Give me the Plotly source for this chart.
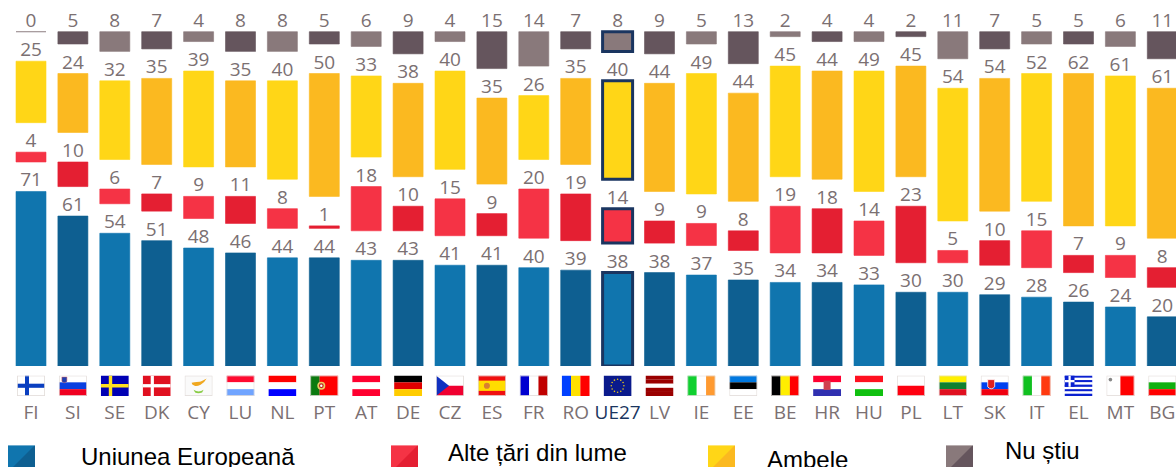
import base64
import math
import plotly.graph_objects as go

# ---------- data ----------
countries = ["FI", "SI", "SE", "DK", "CY", "LU", "NL", "PT", "AT", "DE", "CZ", "ES", "FR", "RO",
             "UE27", "LV", "IE", "EE", "BE", "HR", "HU", "PL", "LT", "SK", "IT", "EL", "MT", "BG"]
eu_values = [71, 61, 54, 51, 48, 46, 44, 44, 43, 43, 41, 41, 40, 39,
             38, 38, 37, 35, 34, 34, 33, 30, 30, 29, 28, 26, 24, 20]
other_values = [4, 10, 6, 7, 9, 11, 8, 1, 18, 10, 15, 9, 20, 19,
                14, 9, 9, 8, 19, 18, 14, 23, 5, 10, 15, 7, 9, 8]
both_values = [25, 24, 32, 35, 39, 35, 40, 50, 33, 38, 40, 35, 26, 35,
               40, 44, 49, 44, 45, 44, 49, 45, 54, 54, 52, 62, 61, 61]
dk_values = [0, 5, 8, 7, 4, 8, 8, 5, 6, 9, 4, 15, 14, 7,
             8, 9, 5, 13, 2, 4, 4, 2, 11, 7, 5, 5, 6, 11]
series_names = ["Uniunea Europeană", "Alte țări din lume", "Ambele", "Nu știu"]

# ---------- styles ----------
W, H = 1176, 467
BASE_PX = 366            # pixel row of the zero line
PX_PER_UNIT = 2.458
GAP = 12                 # blank space between the four panels, in value units
LABEL_DROP = -0.1        # label anchor offset below the bar top, in value units
STEP = 41.9
FIRST_CENTER = 31
BAR_PX = 30
NAVY = "#1a3560"
TXT = "#7b7072"
LIGHT = ["#1075ae", "#f53345", "#ffd617", "#89797b"]
DARK = ["#0e5f91", "#e41f32", "#fbb920", "#65555d"]
FONT = "Open Sans"


def px_y(y):
    return (BASE_PX - y) / BASE_PX


def svg_uri(body, w=28, h=20):
    svg = f'<svg xmlns="http://www.w3.org/2000/svg" width="{w*4}" height="{h*4}" viewBox="0 0 {w} {h}">{body}</svg>'
    return "data:image/svg+xml;base64," + base64.b64encode(svg.encode()).decode()


def hbands(*cols):
    n = len(cols)
    return "".join(f'<rect x="0" y="{20*i/n}" width="28" height="{20/n+0.05}" fill="{c}"/>' for i, c in enumerate(cols))


def vbands(*cols):
    n = len(cols)
    return "".join(f'<rect x="{28*i/n}" y="0" width="{28/n+0.05}" height="20" fill="{c}"/>' for i, c in enumerate(cols))


def cross(bg, fg, t=4):
    return (f'<rect width="28" height="20" fill="{bg}"/><rect x="8" width="{t}" height="20" fill="{fg}"/>'
            f'<rect y="{10-t/2}" width="28" height="{t}" fill="{fg}"/>')


def eu_stars():
    s = '<rect width="28" height="20" fill="#0a1a8c"/>'
    for k in range(12):
        a = k * math.pi / 6
        s += f'<circle cx="{14+6.3*math.cos(a):.2f}" cy="{10+6.3*math.sin(a):.2f}" r="0.8" fill="#e4c21a"/>'
    return s


flag_art = {
    "FI": cross("#ffffff", "#0a3fc0"),
    "SI": hbands("#ffffff", "#0a3fe0", "#f00020") + '<path d="M3 1.5h5v4q-2.5 3-5 0z" fill="#2040b0" stroke="#e06060" stroke-width=".5"/>',
    "SE": cross("#0000b4", "#ffe020", t=3.4),
    "DK": cross("#e01020", "#ffffff", t=3.2),
    "CY": '<rect width="28" height="20" fill="#fafafa"/><path d="M7 7q6 -1 8 -1t7 -3q-2 4 -6 6t-6 1q-3 -1 -3 -3z" fill="#f0a820"/><path d="M9 14q5 3 10 0l-1.5 2.5q-4 1.5 -7 0z" fill="#88cc44"/>',
    "LU": hbands("#ff0a30", "#ffffff", "#70a4ff"),
    "NL": hbands("#ff0000", "#ffffff", "#0000ff"),
    "PT": vbands("#0c7a10", "#ff0000", "#ff0000") + '<circle cx="11" cy="10" r="4" fill="#e8d060"/><circle cx="11" cy="10" r="2.4" fill="#c02020"/><circle cx="11" cy="10" r="1.2" fill="#ffffff"/>',
    "AT": hbands("#ff0030", "#ffffff", "#ff0030"),
    "DE": hbands("#000000", "#e00000", "#ffcc00"),
    "CZ": hbands("#ffffff", "#f00030") + '<path d="M0 0L13 10L0 20z" fill="#1030c0"/>',
    "ES": '<rect width="28" height="20" fill="#f01010"/><rect y="5" width="28" height="10" fill="#ffdd00"/><circle cx="9" cy="10" r="3" fill="#d88030"/>',
    "FR": vbands("#0000d0", "#ffffff", "#c00000"),
    "RO": vbands("#0040ff", "#ffe000", "#ff0000"),
    "UE27": eu_stars(),
    "LV": hbands("#9a0000", "#9a0000", "#ffffff", "#9a0000", "#9a0000"),
    "IE": vbands("#10d030", "#ffffff", "#ff9a30"),
    "EE": hbands("#0078e0", "#000000", "#ffffff"),
    "BE": vbands("#000000", "#ffee00", "#ff0000"),
    "HR": hbands("#ff0030", "#ffffff", "#3030b0") + '<rect x="10.5" y="5" width="7" height="9" fill="#d04050"/>',
    "HU": hbands("#ff1020", "#ffffff", "#10c010"),
    "PL": hbands("#ffffff", "#ff0010"),
    "LT": hbands("#fff000", "#108030", "#e01020"),
    "SK": hbands("#ffffff", "#0040f0", "#f00010") + '<path d="M7 4h7v7q-3.5 4 -7 0z" fill="#e02020" stroke="#ffffff" stroke-width=".8"/>',
    "IT": vbands("#10c020", "#ffffff", "#ff3a10"),
    "EL": hbands(*["#0a20d0", "#ffffff"] * 4 + ["#0a20d0"]) + '<rect width="10" height="11" fill="#0a20d0"/><rect x="4" width="2.2" height="11" fill="#fff"/><rect y="4.4" width="10" height="2.2" fill="#fff"/>',
    "MT": vbands("#ffffff", "#ff0000") + '<circle cx="4" cy="4" r="1.8" fill="#888"/>',
    "BG": hbands("#ffffff", "#10b010", "#ff0000"),
}
no_border = {"NL", "AT", "HU", "LV", "HR", "UE27", "SE", "DK", "DE", "RO", "EL"}


def flag(code):
    body = flag_art[code]
    if code not in no_border:
        body += '<rect x=".4" y=".4" width="27.2" height="19.2" fill="none" stroke="#e2dcd9" stroke-width=".8"/>'
    return svg_uri(body)


def legend_swatch(i):
    return svg_uri(f'<rect width="27" height="27" fill="{LIGHT[i]}"/><path d="M27 0V27H0z" fill="{DARK[i]}"/>'
                   f'<rect x="0" y="0" width="27" height="0.8" fill="#ffffff" opacity=".5"/>', 27, 27)


def alt(pair):
    return [pair[0] if i % 2 == 0 else pair[1] for i in range(len(countries))]


# ---------- bars, each panel stacked on the previous ones with a constant gap ----------
fig = go.Figure()
stack = [eu_values, other_values, both_values, dk_values]
running = [0] * len(countries)
ue_index = countries.index("UE27")
for s, vals in enumerate(stack):
    line_w = [0.6] * len(countries)
    line_c = alt((LIGHT[s], DARK[s]))
    line_w[ue_index] = 3
    line_c[ue_index] = NAVY
    fig.add_trace(go.Bar(
        x=countries, y=vals, base=running, name=series_names[s],
        marker=dict(color=alt((LIGHT[s], DARK[s])), line=dict(color=line_c, width=line_w)),
        showlegend=False,
    ))
    fig.add_trace(go.Scatter(
        x=countries, y=[r + v - LABEL_DROP for r, v in zip(running, vals)],
        mode="text", text=vals, textposition="top center", cliponaxis=False,
        textfont=dict(family=FONT, size=19, color=TXT),
        showlegend=False, hoverinfo="skip",
    ))
    running = [r + v + GAP for r, v in zip(running, vals)]

ticktext = [f'<span style="color:{NAVY}">{c}</span>' if c == "UE27" else c for c in countries]

images = []
for c in countries:
    images.append(dict(source=flag(c), xref="x", yref="paper", x=c, y=px_y(375.5),
                       sizex=28 / STEP, sizey=20.5 / BASE_PX, sizing="stretch",
                       xanchor="center", yanchor="top", layer="above"))
swatch_x = [8, 391, 708, 946]
for i, x in enumerate(swatch_x):
    images.append(dict(source=legend_swatch(i), xref="paper", yref="paper", x=x / W, y=px_y(445),
                       sizex=27 / W, sizey=27 / BASE_PX, sizing="stretch",
                       xanchor="left", yanchor="top", layer="above"))

label_pos = [(79, 456), (446, 452), (765, 459), (1003, 450)]
annotations = [dict(text=n, xref="paper", yref="paper", x=p[0] / W, y=px_y(p[1]),
                    xanchor="left", yanchor="middle", showarrow=False,
                    font=dict(family="Liberation Sans", size=24, color="#000000"))
               for n, p in zip(series_names, label_pos)]

fig.update_layout(
    width=W, height=H, margin=dict(l=0, r=0, t=0, b=H - BASE_PX, pad=0),
    paper_bgcolor="#ffffff", plot_bgcolor="#ffffff",
    barmode="overlay", bargap=1 - BAR_PX / STEP, showlegend=False,
    images=images, annotations=annotations,
    xaxis=dict(type="category", categoryorder="array", categoryarray=countries,
               range=[-FIRST_CENTER / STEP, (W - FIRST_CENTER) / STEP],
               tickmode="array", tickvals=countries, ticktext=ticktext,
               ticks="", showline=False, showgrid=False, zeroline=False,
               ticklabelstandoff=33, tickfont=dict(family=FONT, size=19, color=TXT)),
    yaxis=dict(range=[0, BASE_PX / PX_PER_UNIT], visible=False, fixedrange=True),
)

fig.write_html("out.html", config={"displayModeBar": False},
               post_script="document.body.style.margin='0';document.body.style.overflow='hidden';")
